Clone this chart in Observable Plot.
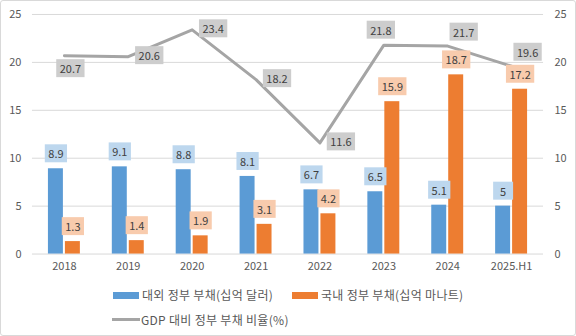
<!DOCTYPE html>
<html>
<head>
<meta charset="utf-8">
<script src="https://cdn.jsdelivr.net/npm/d3@7"></script>
<script src="https://cdn.jsdelivr.net/npm/@observablehq/plot@0.6"></script>
<style>
  html, body { margin: 0; padding: 0; background: #fff; }
  #frame { position: relative; width: 576px; height: 336px; box-sizing: border-box; border: 1px solid #d9d9d9; border-radius: 3px; overflow: hidden; font-family: "Noto Sans CJK KR", "Noto Sans", sans-serif; }
  #chart { position: absolute; left: -1px; top: -1px; }
  .leg { position: absolute; font-size: 12px; color: #595959; white-space: nowrap; line-height: 14px; letter-spacing: 0.3px; }
  .sw { position: absolute; }
</style>
</head>
<body>
<div id="frame">
  <div id="chart"></div>
  <div class="sw" style="left:112px;top:291px;width:26px;height:7px;background:#5B9BD5"></div>
  <div class="leg" id="l1" style="left:141px;top:287px"></div>
  <div class="sw" style="left:291px;top:291px;width:26px;height:7px;background:#ED7D31"></div>
  <div class="leg" id="l2" style="left:320px;top:287px"></div>
  <div class="sw" style="left:111px;top:317px;width:28px;height:3px;background:#A5A5A5"></div>
  <div class="leg" id="l3" style="left:140px;top:312px"></div>
</div>
<script>
const categories = ["2018", "2019", "2020", "2021", "2022", "2023", "2024", "2025.H1"];
const externalDebt = [8.9, 9.1, 8.8, 8.1, 6.7, 6.5, 5.1, 5];
const domesticDebt = [1.3, 1.4, 1.9, 3.1, 4.2, 15.9, 18.7, 17.2];
const debtToGdp = [20.7, 20.6, 23.4, 18.2, 11.6, 21.8, 21.7, 19.6];
const yTicks = [0, 5, 10, 15, 20, 25];
const seriesNames = ["대외 정부 부채(십억 달러)", "국내 정부 부채(십억 마나트)", "GDP 대비 정부 부채 비율(%)"];
const ratioLabelPlacement = ["below", "right", "right", "right", "right", "above", "above-right", "above-right"];

document.getElementById("l1").textContent = seriesNames[0];
document.getElementById("l2").textContent = seriesNames[1];
document.getElementById("l3").textContent = seriesNames[2];

const rows = categories.map((c, i) => ({
  cat: c, ext: externalDebt[i], dom: domesticDebt[i], ratio: debtToGdp[i], place: ratioLabelPlacement[i]
}));

const placeOffsets = {
  "below": [6, 14],
  "right": [21, 0],
  "above": [-3, -14],
  "above-right": [16, -13]
};

const labelStyle = { fill: "#404040", fontSize: 11 };

const ratioLabels = Object.entries(placeOffsets).map(([p, [dx, dy]]) =>
  Plot.text(rows.filter(d => d.place === p), {
    x: "cat", y: "ratio", text: d => String(d.ratio), dx, dy,
    className: "box-gray", ...labelStyle
  })
);

const chart = Plot.plot({
  width: 576,
  height: 282,
  marginLeft: 32,
  marginRight: 32,
  marginTop: 14,
  marginBottom: 28,
  style: { fontFamily: '"Noto Sans CJK KR", "Noto Sans", sans-serif', fontSize: "11px", color: "#595959", background: "transparent" },
  x: { domain: categories, padding: 0, label: null },
  y: { domain: [0, 25], label: null },
  marks: [
    Plot.gridY(yTicks, { stroke: "#d9d9d9", strokeOpacity: 1 }),
    Plot.axisY(yTicks, { anchor: "left", tickSize: 0, tickPadding: 11, label: null, fill: "#595959" }),
    Plot.axisY(yTicks, { anchor: "right", tickSize: 0, tickPadding: 11, label: null, fill: "#595959" }),
    Plot.axisX({ tickSize: 0, tickPadding: 8, label: null, fill: "#595959" }),
    Plot.barY(rows, { x: "cat", y: "ext", fill: "#5B9BD5", insetLeft: 16, insetRight: 33 }),
    Plot.barY(rows, { x: "cat", y: "dom", fill: "#ED7D31", insetLeft: 33, insetRight: 16 }),
    Plot.lineY(rows, { x: "cat", y: "ratio", stroke: "#A5A5A5", strokeWidth: 3 }),
    Plot.text(rows, { x: "cat", y: "ext", text: d => String(d.ext), dx: -8.5, dy: -14, className: "box-blue", ...labelStyle }),
    Plot.text(rows, { x: "cat", y: "dom", text: d => String(d.dom), dx: 8.5, dy: -14, className: "box-orange", ...labelStyle }),
    ...ratioLabels
  ]
});

document.getElementById("chart").append(chart);

// Add filled boxes behind the data labels, sized from each text's own bounding box
const boxFill = { "box-blue": "#BDD7EE", "box-orange": "#F8CBAD", "box-gray": "#CDCDCD" };
for (const [cls, fill] of Object.entries(boxFill)) {
  chart.querySelectorAll("g." + cls).forEach(g => {
    g.querySelectorAll("text").forEach(t => {
      const b = t.getBBox();
      const w = Math.max(b.width + 7, 20);
      const h = 18;
      const cx = b.x + b.width / 2;
      const cy = b.y + b.height / 2;
      const r = document.createElementNS("http://www.w3.org/2000/svg", "rect");
      r.setAttribute("x", cx - w / 2);
      r.setAttribute("y", cy - h / 2);
      r.setAttribute("width", w);
      r.setAttribute("height", h);
      r.setAttribute("fill", fill);
      const tr = t.getAttribute("transform");
      if (tr) r.setAttribute("transform", tr);
      g.insertBefore(r, t);
    });
  });
}
</script>
</body>
</html>
